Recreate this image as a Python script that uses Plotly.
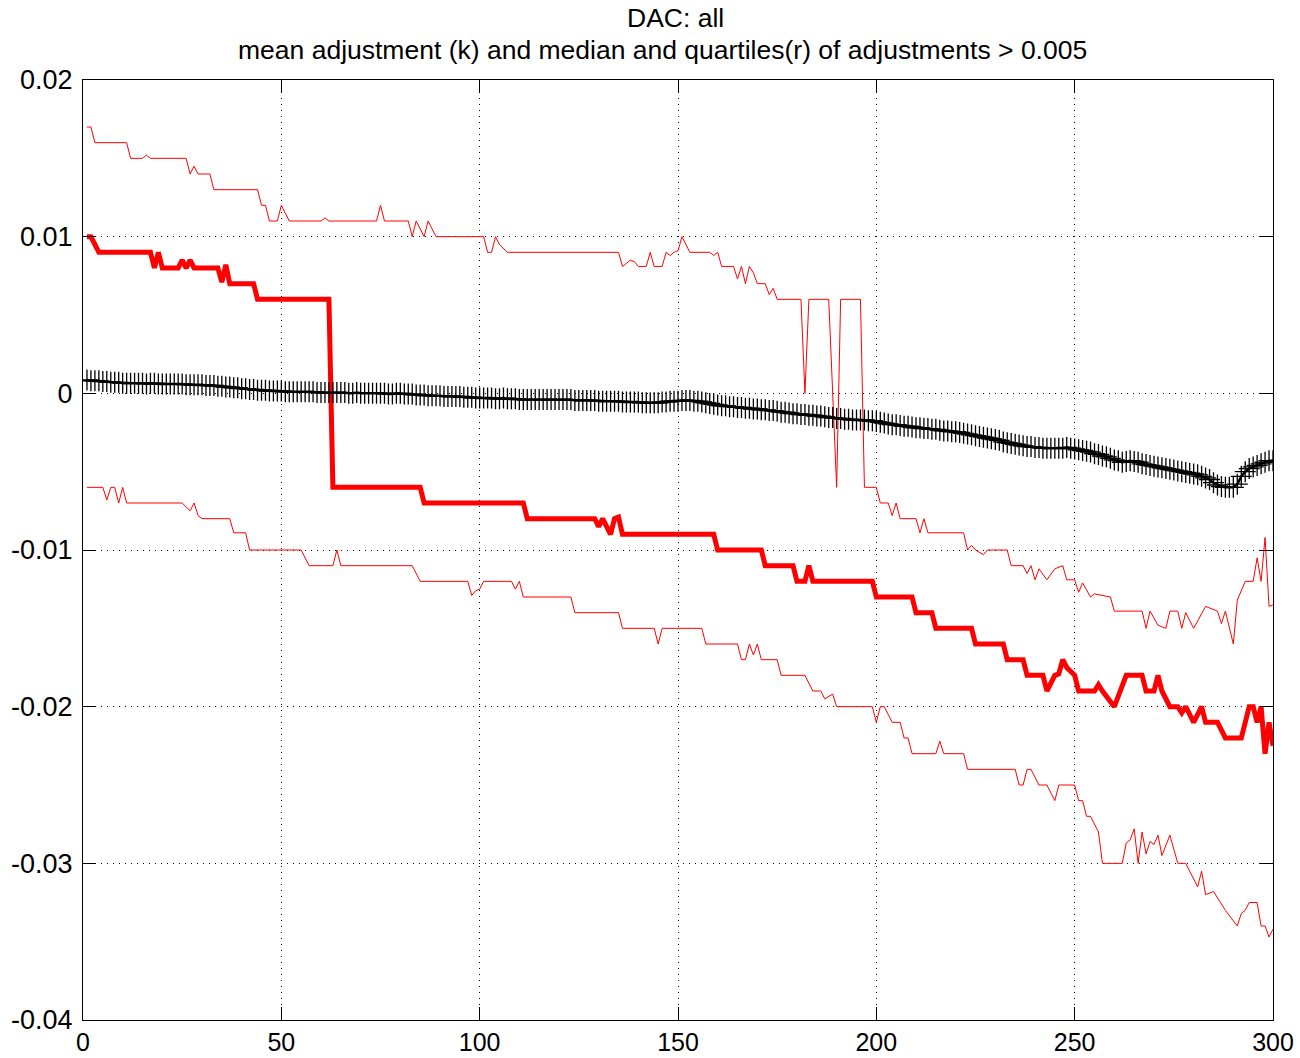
import plotly.graph_objects as go

# ---------------- data ----------------
title_line1 = "DAC: all"
title_line2 = "mean adjustment (k) and median and quartiles(r) of adjustments > 0.005"

x_ticks = [0, 50, 100, 150, 200, 250, 300]
y_ticks = [-0.04, -0.03, -0.02, -0.01, 0.0, 0.01, 0.02]
y_ticktext = ["-0.04", "-0.03", "-0.02", "-0.01", "0", "0.01", "0.02"]

# mean adjustment (black, one value per index 1..300), in units of 1e-4
mean_x = list(range(1, 301))
mean_adj_e4 = [
    8.5, 8, 8, 8, 7.5, 7.5, 7, 7, 7, 6.5,
    6.5, 6.5, 6.5, 6.5, 6.5, 6, 6.5, 6.5, 6, 6,
    6, 6, 6, 6, 6, 5.5, 5.5, 5.5, 5.5, 5.5,
    5, 5, 5, 4.5, 4.5, 4, 4, 3.5, 3.5, 3,
    3, 2.5, 2.5, 2, 2, 2, 1.5, 1.5, 1.5, 1.5,
    1, 1, 1, 1, 1, 1, 1, 1, 0.5, 0.5,
    0.5, 0.5, 0.5, 0.5, 0.5, 0.5, 0, 0, 0.5, 0,
    0, 0, 0, 0, 0, 0, -0.5, -0.5, 0, 0,
    -0.5, -0.5, -0.5, -1, -1, -1, -1.5, -1.5, -1.5, -1.5,
    -2, -2, -2, -2, -2, -2.5, -2.5, -2.5, -3, -3,
    -3, -3, -3, -3.5, -3.5, -3, -3.5, -3.5, -3.5, -4,
    -4, -4, -4, -4, -4, -4, -4, -4, -4, -4,
    -4, -4, -4, -4.5, -4.5, -4.5, -4.5, -4.5, -4.5, -5,
    -5, -5, -5, -5, -5, -5.5, -5.5, -5.5, -5.5, -5.5,
    -6, -6, -6, -6, -6, -5.5, -5.5, -5, -5, -5,
    -4.5, -4.5, -4.5, -5, -5, -5.5, -6, -6.5, -7, -7.5,
    -8, -8, -8.5, -8.5, -9, -9, -9.5, -9.5, -10, -10,
    -10.5, -10.5, -11, -11, -11.5, -12, -12, -12.5, -13, -13,
    -13.5, -13.5, -14, -14, -14.5, -14.5, -15, -15.5, -15.5, -16,
    -16, -16.5, -16.5, -17, -17, -17, -17, -17.5, -17.5, -18,
    -18.5, -19, -19.5, -20, -20, -20.5, -21, -21, -21.5, -22,
    -22, -22.5, -22.5, -23, -23, -23.5, -24, -24, -24.5, -24.5,
    -25, -25.5, -26, -26.5, -27, -27.5, -28, -28.5, -29, -29.5,
    -30, -31, -31.5, -32, -32.5, -33, -33.5, -34, -34, -34.5,
    -34.5, -35, -35, -35, -35, -35, -35, -34.5, -35, -35.5,
    -36, -36.5, -37, -37.5, -38.5, -39, -40, -40.5, -41.5, -42.5,
    -43, -44, -43.5, -43, -43.5, -44, -45, -45.5, -46, -46.5,
    -47, -47.5, -48, -48.5, -49, -49.5, -50, -50.5, -51, -51.5,
    -52, -53, -54, -55, -57, -58.5, -59.5, -60, -60, -60,
    -58, -53, -50, -48, -47, -46, -45, -44, -43, -43,
]

# median (thick red) vertices
median_x = [1, 2, 3, 4, 17, 18, 19, 20, 24, 25, 26, 27, 28, 34, 35, 36, 37, 43, 44, 62,
            63, 85, 86, 111, 112, 129, 130, 131, 133, 134, 135, 136, 159, 160, 171, 172, 179, 180, 182, 183,
            184, 199, 200, 209, 210, 214, 215, 224, 225, 232, 233, 237, 238, 242, 243, 245, 246, 247, 248, 250,
            251, 255, 256, 257, 260, 263, 267, 268, 270, 271, 272, 274, 276, 277, 278, 280, 282, 283, 286, 288,
            292, 294, 295, 296, 297, 298, 299, 300]
median_y = [0.010, 0.010, 0.0095, 0.009, 0.009, 0.008, 0.009, 0.008, 0.008, 0.0085, 0.008, 0.0085, 0.008, 0.008, 0.0071, 0.0082, 0.007, 0.007, 0.006, 0.006,
            -0.006, -0.006, -0.007, -0.007, -0.008, -0.008, -0.0085, -0.008, -0.009, -0.008, -0.0079, -0.009, -0.009, -0.010, -0.010, -0.011, -0.011, -0.012, -0.012, -0.011,
            -0.012, -0.012, -0.013, -0.013, -0.014, -0.014, -0.015, -0.015, -0.016, -0.016, -0.017, -0.017, -0.018, -0.018, -0.019, -0.018, -0.0179, -0.017, -0.0175, -0.018,
            -0.019, -0.019, -0.0186, -0.019, -0.020, -0.018, -0.018, -0.019, -0.019, -0.018, -0.019, -0.020, -0.020, -0.0204, -0.020, -0.021, -0.020, -0.021, -0.021, -0.022,
            -0.022, -0.020, -0.020, -0.021, -0.020, -0.023, -0.021, -0.0225]

# upper quartile (thin red) vertices
upper_x = [1, 2, 3, 11, 12, 15, 16, 17, 26, 27, 28, 29, 32, 33, 44, 45, 46, 47, 49, 50,
           52, 60, 61, 62, 74, 75, 76, 82, 83, 84, 86, 87, 89, 101, 102, 103, 104, 105, 107, 135,
           136, 138, 139, 140, 142, 143, 144, 146, 147, 148, 149, 150, 151, 153, 158, 159, 160, 161, 164, 165,
           166, 167, 168, 169, 170, 172, 173, 174, 175, 181, 182, 183, 188, 190, 191, 196, 197, 200, 201, 203,
           204, 205, 206, 210, 211, 212, 213, 222, 223, 224, 225, 227, 228, 233, 234, 237, 238, 239, 240, 241,
           243, 245, 247, 248, 250, 251, 252, 254, 255, 259, 260, 267, 268, 269, 271, 273, 274, 276, 277, 278,
           280, 283, 284, 286, 287, 288, 290, 291, 293, 295, 296, 297, 298, 299, 300]
upper_y = [0.017, 0.017, 0.016, 0.016, 0.015, 0.015, 0.0152, 0.015, 0.015, 0.014, 0.0145, 0.014, 0.014, 0.013, 0.013, 0.012, 0.012, 0.011, 0.011, 0.012,
           0.011, 0.011, 0.0112, 0.011, 0.011, 0.012, 0.011, 0.011, 0.010, 0.011, 0.010, 0.011, 0.010, 0.010, 0.009, 0.009, 0.010, 0.0095, 0.009, 0.009,
           0.0081, 0.0085, 0.0084, 0.0081, 0.0081, 0.009, 0.0081, 0.0081, 0.009, 0.0088, 0.009, 0.0091, 0.010, 0.009, 0.009, 0.0088, 0.009, 0.0081, 0.0081, 0.0073,
           0.0081, 0.007, 0.0081, 0.0077, 0.007, 0.007, 0.0063, 0.0067, 0.006, 0.006, 0.0, 0.006, 0.006, -0.006, 0.006, 0.006, -0.006, -0.006, -0.007, -0.007,
           -0.0078, -0.007, -0.008, -0.008, -0.0089, -0.008, -0.0089, -0.0089, -0.010, -0.0097, -0.010, -0.0103, -0.010, -0.010, -0.011, -0.011, -0.0115, -0.011, -0.0119, -0.0112,
           -0.0119, -0.0112, -0.011, -0.0119, -0.0119, -0.0127, -0.0121, -0.013, -0.0128, -0.013, -0.0139, -0.0139, -0.015, -0.0139, -0.0148, -0.015, -0.0139, -0.0139, -0.015, -0.014,
           -0.015, -0.0136, -0.0137, -0.0139, -0.0147, -0.0139, -0.016, -0.0132, -0.012, -0.012, -0.0105, -0.012, -0.0092, -0.0136, -0.0135]

# lower quartile (thin red) vertices
lower_x = [1, 5, 6, 7, 8, 9, 10, 11, 25, 27, 28, 29, 30, 37, 38, 41, 42, 55, 57, 63,
           64, 65, 83, 85, 97, 98, 99, 100, 101, 108, 109, 110, 111, 123, 124, 135, 136, 144, 145, 146,
           156, 157, 165, 166, 167, 168, 169, 170, 171, 175, 176, 182, 184, 186, 187, 189, 190, 199, 200, 201,
           202, 204, 206, 207, 208, 209, 215, 216, 217, 222, 223, 235, 236, 237, 238, 239, 241, 243, 245, 246,
           250, 251, 252, 253, 254, 256, 257, 262, 263, 264, 265, 266, 267, 268, 269, 270, 271, 272, 274, 276,
           278, 281, 282, 283, 285, 288, 291, 292, 293, 294, 296, 297, 298, 299, 300]
lower_y = [-0.006, -0.006, -0.0068, -0.006, -0.006, -0.007, -0.006, -0.007, -0.007, -0.0075, -0.007, -0.0078, -0.008, -0.008, -0.0089, -0.0089, -0.010, -0.010, -0.011, -0.011,
           -0.010, -0.011, -0.011, -0.012, -0.012, -0.0129, -0.0126, -0.0125, -0.012, -0.012, -0.0125, -0.012, -0.013, -0.013, -0.014, -0.014, -0.015, -0.015, -0.016, -0.015,
           -0.015, -0.016, -0.016, -0.017, -0.017, -0.016, -0.0167, -0.016, -0.017, -0.017, -0.018, -0.018, -0.019, -0.019, -0.0195, -0.0192, -0.020, -0.020, -0.021, -0.020,
           -0.020, -0.021, -0.021, -0.022, -0.022, -0.023, -0.023, -0.0222, -0.023, -0.023, -0.024, -0.024, -0.025, -0.025, -0.024, -0.024, -0.025, -0.025, -0.026, -0.025,
           -0.025, -0.026, -0.026, -0.027, -0.027, -0.028, -0.030, -0.030, -0.0287, -0.0285, -0.0278, -0.030, -0.028, -0.0294, -0.0286, -0.0288, -0.0282, -0.0295, -0.0282, -0.030,
           -0.030, -0.0315, -0.0305, -0.032, -0.0318, -0.033, -0.034, -0.0332, -0.033, -0.0325, -0.0325, -0.034, -0.034, -0.0347, -0.0342]

# ---------------- figure ----------------
mean_y = [v * 1e-4 for v in mean_adj_e4]

fig = go.Figure()
fig.add_trace(go.Scatter(x=upper_x, y=upper_y, mode="lines",
                         line=dict(color="#ff0000", width=1), showlegend=False))
fig.add_trace(go.Scatter(x=lower_x, y=lower_y, mode="lines",
                         line=dict(color="#ff0000", width=1), showlegend=False))
fig.add_trace(go.Scatter(x=median_x, y=median_y, mode="lines",
                         line=dict(color="#ff0000", width=5), showlegend=False))
fig.add_trace(go.Scatter(x=mean_x, y=mean_y, mode="lines+markers",
                         line=dict(color="black", width=2.5),
                         marker=dict(symbol="cross-thin", size=15,
                                     line=dict(color="black", width=1.3)),
                         showlegend=False))

font_family = "Liberation Sans, Arial, sans-serif"
axis_common = dict(
    showline=True, linecolor="black", linewidth=1, mirror="ticks",
    ticks="inside", ticklen=13, tickcolor="black", tickwidth=1,
    showgrid=True, gridcolor="black", griddash="1px,5px", gridwidth=1,
    zeroline=False, automargin=False,
)
fig.update_xaxes(range=[0, 300], tickvals=x_ticks, ticklabelstandoff=0,
                 tickfont=dict(family=font_family, size=25, color="black"),
                 **axis_common)
fig.update_yaxes(range=[-0.04, 0.02], tickvals=y_ticks, ticktext=y_ticktext,
                 ticklabelstandoff=4,
                 tickfont=dict(family=font_family, size=27, color="black"),
                 **axis_common)

fig.update_layout(
    width=1300, height=1058,
    margin=dict(l=83, r=27, t=80, b=38),
    paper_bgcolor="white", plot_bgcolor="white",
    font=dict(family=font_family, color="black"),
    annotations=[
        dict(text=title_line1, x=0.498, y=1.066, xref="paper", yref="paper",
             xanchor="center", yanchor="middle", showarrow=False,
             font=dict(family=font_family, size=26.5, color="black")),
        dict(text=title_line2, x=0.4866, y=1.032, xref="paper", yref="paper",
             xanchor="center", yanchor="middle", showarrow=False,
             font=dict(family=font_family, size=26.5, color="black")),
    ],
)

fig.write_html("out.html")
